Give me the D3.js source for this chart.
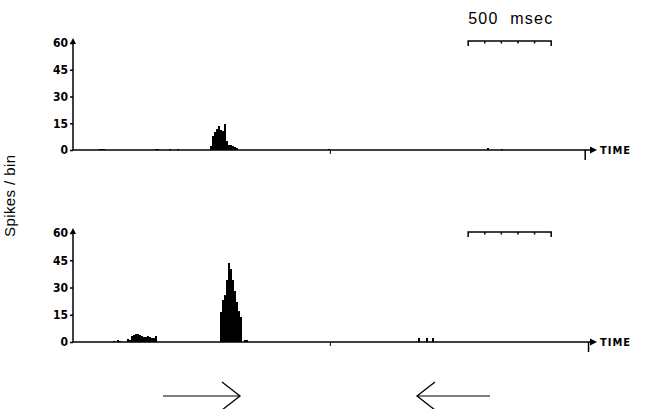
<!DOCTYPE html>
<html><head><meta charset="utf-8">
<script src="https://cdn.jsdelivr.net/npm/d3@7"></script>
<style>body{margin:0;background:#fff}svg{display:block}</style>
</head><body>
<script>
// ---- data ----
const binMs = 12;
const yTicks = [0, 15, 30, 45, 60];
const topBins   = [13,14,15,41,42,48,52,69,70,71,72,73,74,75,76,77,78,79,80,81,82,128,208,215];
const topCounts = [0.6,0.8,0.5,0.5,0.6,0.5,0.5,2,8,10,12,13.5,11,10.5,14.6,5,3,3,2,1.5,1,0.7,1,0.6];
const botBins   = [20,22,23,27,28,29,30,31,32,33,34,35,36,37,38,39,40,41,74,75,76,77,78,79,80,81,82,83,84,86,87,173,177,180];
const botCounts = [0.7,1,0.8,1.5,1,3.5,4,4.4,4.4,4,3.5,3,2.5,3.3,3,2,2,3.3,16.5,23,26,34,43.5,40,34,28,22,17,14,1,1,2,2,2];
const topMarksMs = [1550, 3085];
const botMarksMs = [1550, 3105];
const scaleBarMs = [2380, 2880];
const scaleBarTicks = [0, 100, 200, 300, 400, 500];

const W = 651, H = 409;
const svg = d3.select("body").append("svg").attr("width", W).attr("height", H);
const x = d3.scaleLinear().domain([0, 3150]).range([73, 596]);

const panels = [
  {bins: topBins, counts: topCounts, y0: 150, y60: 43, marks: topMarksMs, bar: 41},
  {bins: botBins, counts: botCounts, y0: 342, y60: 233, marks: botMarksMs, bar: 232}
];
const font = "'Liberation Sans Narrow','DejaVu Sans Condensed','DejaVu Sans',sans-serif";

panels.forEach((p, i) => {
  const y = d3.scaleLinear().domain([0, 60]).range([p.y0, p.y60]);
  const g = svg.append("g");
  // bars
  g.selectAll("rect.bin").data(p.bins.map((b, j) => ({b, c: p.counts[j]})))
    .join("rect")
    .attr("shape-rendering", "crispEdges")
    .attr("x", d => Math.round(x(d.b * binMs)))
    .attr("width", d => Math.round(x((d.b + 1) * binMs)) - Math.round(x(d.b * binMs)))
    .attr("y", d => y(d.c))
    .attr("height", d => y(0) - y(d.c))
    .attr("fill", "#000");
  // y axis
  const ya = d3.axisLeft(y).tickValues(yTicks).tickSize(3).tickPadding(2).tickFormat(d3.format("d"));
  const yg = g.append("g").attr("transform", `translate(${x(0)},0)`).call(ya);
  yg.select(".domain").remove();
  yg.selectAll("line").attr("stroke", "#000").attr("stroke-width", 1.5);
  yg.selectAll("text").attr("font-family", font).attr("font-weight", "bold")
    .attr("font-size", 12).attr("fill", "#000");
  g.append("line").attr("x1", x(0)).attr("x2", x(0)).attr("y1", y(0)).attr("y2", y(60) - 2)
    .attr("stroke", "#000").attr("stroke-width", 1.5);
  g.append("path").attr("d", `M${x(0)},${y(60) - 5} l-3,6 l6,0 z`).attr("fill", "#000");
  // x axis
  g.append("line").attr("x1", x(0)).attr("x2", x(3120)).attr("y1", y(0)).attr("y2", y(0))
    .attr("stroke", "#000").attr("stroke-width", 1.5);
  g.append("path").attr("d", `M${x(3150) + 1},${y(0)} l-7,-3.5 l0,7 z`).attr("fill", "#000");
  g.append("text").attr("x", x(3150) + 4).attr("y", y(0) + 4).text("TIME")
    .attr("font-family", font).attr("font-weight", "bold").attr("font-size", 11)
    .attr("textLength", 30).attr("lengthAdjust", "spacing");
  // time marks
  g.selectAll("line.mark").data(p.marks).join("line")
    .attr("x1", d => x(d)).attr("x2", d => x(d))
    .attr("y1", y(0)).attr("y2", (d, j) => y(0) + (j === 0 ? 4 : 10))
    .attr("stroke", "#000").attr("stroke-width", (d, j) => j === 0 ? 1 : 1.5);
  // scale bar
  const sb = g.append("g");
  sb.append("path")
    .attr("d", `M${x(scaleBarMs[0])},${p.bar + 5} L${x(scaleBarMs[0])},${p.bar} L${x(scaleBarMs[1])},${p.bar} L${x(scaleBarMs[1])},${p.bar + 5}`)
    .attr("fill", "none").attr("stroke", "#000").attr("stroke-width", 1.5);
  sb.selectAll("line.st").data(scaleBarTicks.slice(1, -1)).join("line")
    .attr("x1", d => x(scaleBarMs[0] + d)).attr("x2", d => x(scaleBarMs[0] + d))
    .attr("y1", p.bar).attr("y2", p.bar + 2.5)
    .attr("stroke", "#000").attr("stroke-width", 1.5);
});

// scale bar label
svg.append("text").attr("x", x(scaleBarMs[0])).attr("y", 24)
  .attr("font-family", "'Liberation Sans',Arial,sans-serif").attr("font-size", 16)
  .attr("textLength", x(scaleBarMs[1]) - x(scaleBarMs[0]) + 1).attr("lengthAdjust", "spacing")
  .style("white-space", "pre").text("500  msec");

// y label
svg.append("text").attr("transform", "translate(15,196) rotate(-90)")
  .attr("text-anchor", "middle")
  .attr("font-family", "'Liberation Sans',Arial,sans-serif").attr("font-size", 15)
  .attr("textLength", 82).attr("lengthAdjust", "spacing")
  .text("Spikes / bin");

// direction arrows
const arrows = [
  {x1: 163, x2: 240, dir: 1},
  {x1: 490, x2: 417, dir: -1}
];
arrows.forEach(a => {
  svg.append("line").attr("x1", a.x1).attr("x2", a.x2).attr("y1", 396).attr("y2", 396)
    .attr("stroke", "#000").attr("stroke-width", 1.2);
  svg.append("path").attr("d", `M${a.x2 - a.dir * 18},382 L${a.x2},396 L${a.x2 - a.dir * 18},410`)
    .attr("fill", "none").attr("stroke", "#000").attr("stroke-width", 1.3);
});
</script>
</body></html>
